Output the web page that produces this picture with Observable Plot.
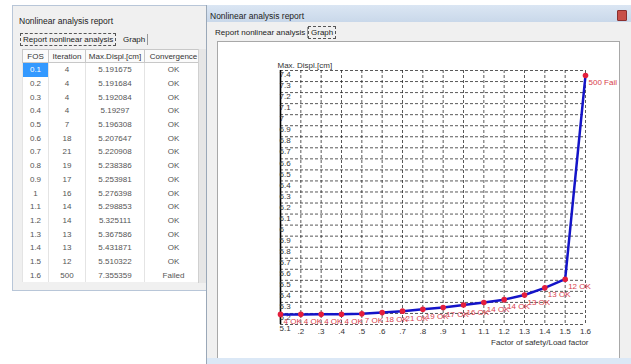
<!DOCTYPE html>
<html>
<head>
<meta charset="utf-8">
<script src="https://cdn.jsdelivr.net/npm/d3@7"></script>
<script src="https://cdn.jsdelivr.net/npm/@observablehq/plot@0.6"></script>
<style>
  html, body { margin: 0; padding: 0; }
  body { width: 631px; height: 364px; position: relative; overflow: hidden; background: #ffffff;
         font-family: "Liberation Sans", Arial, sans-serif; color: #333; }
  .win { position: absolute; background: #f0f0f0; }
  .tbar { position: absolute; left: 0; right: 0; top: 0; height: 17px;
          background: linear-gradient(#dbe6f3, #c9d8ea); }
  .title { position: absolute; font-size: 8.5px; color: #222; white-space: nowrap; }
  .tab { position: absolute; font-size: 8px; color: #222; white-space: nowrap; padding: 1px 2px; }
  .tab.sel { border: 1px dashed #555; }
  .tab.oth { border-right: 1px solid #999; }
  table { position: absolute; border-collapse: collapse; background: #fff; table-layout: fixed;
          font-family: "Liberation Sans", Arial, sans-serif; font-size: 8px; color: #555; }
  td, th { padding: 0; text-align: center; height: 13.7px; border-left: 1px solid #e4e4e4; border-right: 1px solid #e4e4e4; font-weight: normal; white-space: nowrap; overflow: hidden; }
  th { border: 1px solid #c8c8c8; height: 12px; color: #333; background: #fbfbfb; }
  td.hl { background: #3399ff; color: #fff; }
  #chart { position: absolute; left: 218px; top: 42px; }
  #chart svg { overflow: hidden; }
</style>
</head>
<body>
<script>
// ---- data ----
const fos = [0.1, 0.2, 0.3, 0.4, 0.5, 0.6, 0.7, 0.8, 0.9, 1, 1.1, 1.2, 1.3, 1.4, 1.5, 1.6];
const iterations = [4, 4, 4, 4, 7, 18, 21, 19, 17, 16, 14, 14, 13, 13, 12, 500];
const maxDispl = [5.191675, 5.191684, 5.192084, 5.19297, 5.196308, 5.207647, 5.220908, 5.238386,
                  5.253981, 5.276398, 5.298853, 5.325111, 5.367586, 5.431871, 5.510322, 7.355359];
const convergence = ["OK", "OK", "OK", "OK", "OK", "OK", "OK", "OK", "OK", "OK", "OK", "OK", "OK", "OK", "OK", "Failed"];
const fosLabels = ["0.1", "0.2", "0.3", "0.4", "0.5", "0.6", "0.7", "0.8", "0.9", "1", "1.1", "1.2", "1.3", "1.4", "1.5", "1.6"];
const tableHeaders = ["FOS", "Iteration", "Max.Displ.[cm]", "Convergence"];
const xTicks = [0.1, 0.2, 0.3, 0.4, 0.5, 0.6, 0.7, 0.8, 0.9, 1, 1.1, 1.2, 1.3, 1.4, 1.5, 1.6];
const xTickLabels = ["", ".2", ".3", ".4", ".5", ".6", ".7", ".8", ".9", "1", "1.1", "1.2", "1.3", "1.4", "1.5", "1.6"];
const yTicks = [5.1, 5.2, 5.3, 5.4, 5.5, 5.6, 5.7, 5.8, 5.9, 6, 6.1, 6.2, 6.3, 6.4, 6.5, 6.6, 6.7, 6.8, 6.9, 7, 7.1, 7.2, 7.3, 7.4];
const yTickLabels = ["5.1", "5.2", "5.3", "5.4", "5.5", "5.6", "5.7", "5.8", "5.9", "6", "6.1", "6.2", "6.3", "6.4", "6.5", "6.6", "6.7", "6.8", "6.9", "7", "7.1", "7.2", "7.3", "7.4"];
const windowTitle = "Nonlinear analysis report";
const tabReport = "Report nonlinear analysis";
const tabGraph = "Graph";
const yTitle = "Max. Displ.[cm]";
const xTitle = "Factor of safety/Load factor";

// ---- window chrome ----
function el(tag, cls, style, text) {
  const e = document.createElement(tag);
  if (cls) e.className = cls;
  if (style) e.setAttribute("style", style);
  if (text != null) e.textContent = text;
  return e;
}
const left = el("div", "win", "left:12px;top:5px;width:195px;height:284px;border:1px solid #b8c6d8;");
document.body.appendChild(left);
left.appendChild(el("div", "title", "left:6px;top:10px;", windowTitle));
left.appendChild(el("div", "tab sel", "left:7px;top:27px;", tabReport));
left.appendChild(el("div", "tab oth", "left:108px;top:28px;", tabGraph));

const tbl = el("table", null, "left:22px;top:49px;width:176px;");
const hr = el("tr");
const widths = [25, 36, 58, 57];
tableHeaders.forEach((h, i) => hr.appendChild(el("th", null, `width:${widths[i]}px`, h)));
tbl.appendChild(hr);
fos.forEach((f, i) => {
  const tr = el("tr");
  tr.appendChild(el("td", i === 0 ? "hl" : null, null, fosLabels[i]));
  tr.appendChild(el("td", null, null, String(iterations[i])));
  tr.appendChild(el("td", null, null, String(maxDispl[i])));
  tr.appendChild(el("td", null, null, convergence[i]));
  tbl.appendChild(tr);
});
document.body.appendChild(tbl);
document.body.appendChild(el("div", null, "position:absolute;left:198px;top:49px;width:8px;height:234px;background:#e6e6e6;border-left:1px solid #d0d0d0;"));

const right = el("div", "win", "left:206px;top:5px;width:425px;height:359px;border-left:1px solid #9aa8b8;");
document.body.appendChild(right);
right.appendChild(el("div", "tbar"));
right.appendChild(el("div", "title", "left:3px;top:6px;", windowTitle));
right.appendChild(el("div", null, "position:absolute;left:410px;top:5px;width:8px;height:9px;background:#c8504a;border:1px solid #8a3030;border-radius:1px;"));
right.appendChild(el("div", "tab oth", "left:6px;top:22px;", tabReport));
right.appendChild(el("div", "tab sel", "left:101px;top:21px;", tabGraph));
right.appendChild(el("div", null, "position:absolute;left:10px;top:36px;width:401px;height:317px;background:#fff;border:1px solid #a8a8a8;"));
right.appendChild(el("div", null, "position:absolute;left:0;top:353px;width:425px;height:6px;background:#dbe8f6;"));

// ---- chart ----
const data = fos.map((f, i) => ({fos: f, disp: maxDispl[i], iter: iterations[i], conv: convergence[i]}));
const chartFont = '"Liberation Sans", Arial, sans-serif';
const chart = Plot.plot({
  width: 399,
  height: 315,
  marginLeft: 62,
  marginRight: 32,
  marginTop: 28,
  marginBottom: 33,
  x: {domain: [0.1, 1.6], axis: null},
  y: {domain: [5.1, 7.4], axis: null},
  style: {fontFamily: chartFont, fontSize: "8px", background: "transparent", color: "#333"},
  marks: [
    Plot.ruleX(xTicks, {stroke: "#222", strokeOpacity: 0.75, strokeDasharray: "3,2"}),
    Plot.ruleY(yTicks, {stroke: "#222", strokeOpacity: 0.75, strokeDasharray: "3,2"}),
    Plot.ruleX([0.1], {stroke: "#000", strokeWidth: 1.6}),
    Plot.text(yTicks, {x: 0.1, y: d => d, text: (d, i) => yTickLabels[i], textAnchor: "start", lineAnchor: "top", dx: -1, dy: 1, fill: "#333"}),
    Plot.text(xTicks, {x: d => d, y: 5.1, text: (d, i) => xTickLabels[i], lineAnchor: "top", dy: 4, fill: "#333"}),
    Plot.text([yTitle], {frameAnchor: "top-left", textAnchor: "start", lineAnchor: "middle", dx: -3, dy: -5, fill: "#333"}),
    Plot.text([xTitle], {frameAnchor: "bottom-right", textAnchor: "end", lineAnchor: "middle", dx: 3, dy: 18, fill: "#333"}),
    Plot.line(data, {x: "fos", y: "disp", stroke: "#1414c8", strokeWidth: 2.5}),
    Plot.dot(data, {x: "fos", y: "disp", fill: "#e41e3c", r: 2.8}),
    Plot.text(data, {x: "fos", y: "disp", text: d => `${d.iter} ${d.conv}`, textAnchor: "start", dx: 3, dy: 7, fill: "#d8404c", fontSize: 8})
  ]
});
const holder = el("div", null, null);
holder.id = "chart";
holder.appendChild(chart);
document.body.appendChild(holder);
</script>
</body>
</html>
